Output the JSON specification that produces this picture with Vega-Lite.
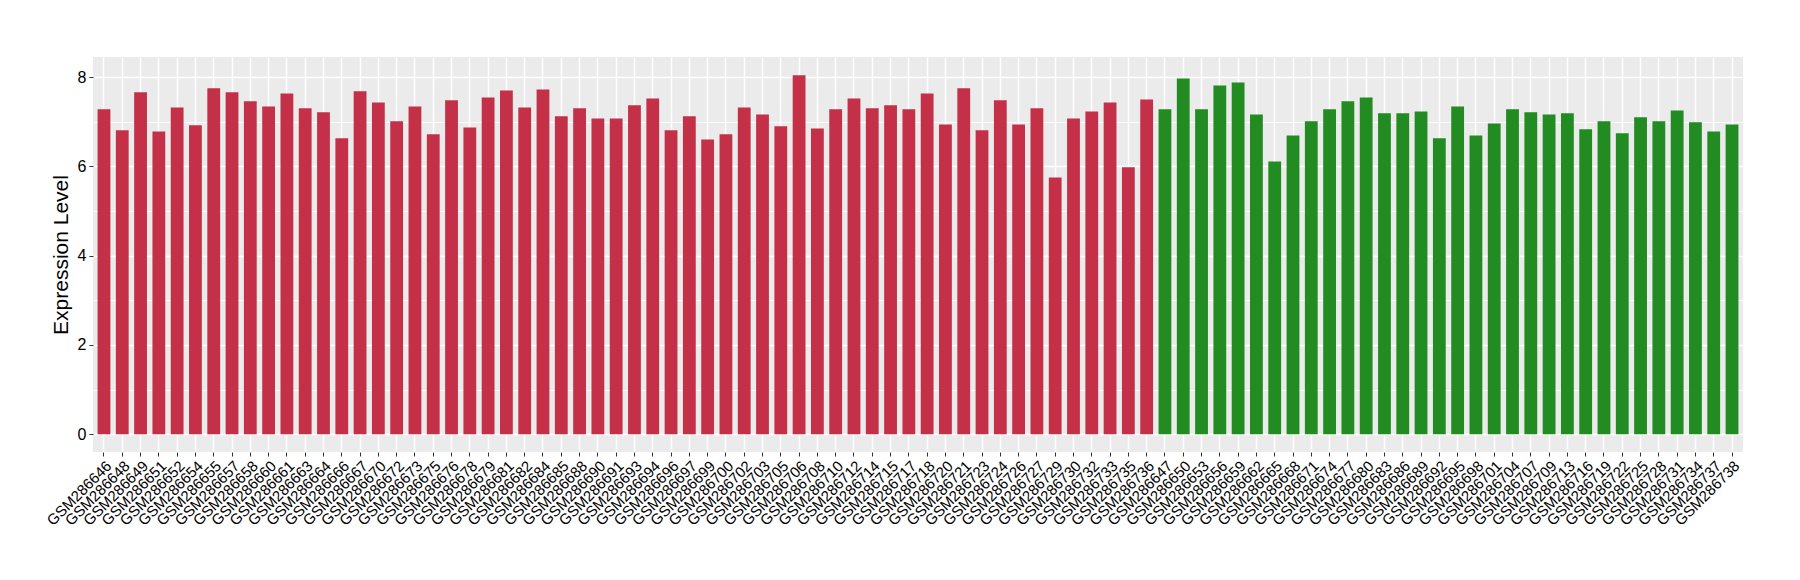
{
  "$schema": "https://vega.github.io/schema/vega-lite/v6.json",
  "autosize": {"type": "none"},
  "padding": {"left": 93, "top": 57, "right": 57, "bottom": 128},
  "width": 1650,
  "height": 395,
  "background": "white",
  "config": {
    "view": {"fill": "#EBEBEB", "stroke": null},
    "font": "Liberation Sans"
  },
  "data": {
    "values": [
      {"sample": "GSM286646", "group": "A", "value": 7.28},
      {"sample": "GSM286648", "group": "A", "value": 6.81},
      {"sample": "GSM286649", "group": "A", "value": 7.66},
      {"sample": "GSM286651", "group": "A", "value": 6.78},
      {"sample": "GSM286652", "group": "A", "value": 7.32},
      {"sample": "GSM286654", "group": "A", "value": 6.92},
      {"sample": "GSM286655", "group": "A", "value": 7.75},
      {"sample": "GSM286657", "group": "A", "value": 7.66},
      {"sample": "GSM286658", "group": "A", "value": 7.46},
      {"sample": "GSM286660", "group": "A", "value": 7.34},
      {"sample": "GSM286661", "group": "A", "value": 7.63},
      {"sample": "GSM286663", "group": "A", "value": 7.30},
      {"sample": "GSM286664", "group": "A", "value": 7.21},
      {"sample": "GSM286666", "group": "A", "value": 6.63},
      {"sample": "GSM286667", "group": "A", "value": 7.68},
      {"sample": "GSM286670", "group": "A", "value": 7.43},
      {"sample": "GSM286672", "group": "A", "value": 7.01},
      {"sample": "GSM286673", "group": "A", "value": 7.34},
      {"sample": "GSM286675", "group": "A", "value": 6.72},
      {"sample": "GSM286676", "group": "A", "value": 7.48},
      {"sample": "GSM286678", "group": "A", "value": 6.87},
      {"sample": "GSM286679", "group": "A", "value": 7.54},
      {"sample": "GSM286681", "group": "A", "value": 7.70},
      {"sample": "GSM286682", "group": "A", "value": 7.32},
      {"sample": "GSM286684", "group": "A", "value": 7.72},
      {"sample": "GSM286685", "group": "A", "value": 7.12},
      {"sample": "GSM286688", "group": "A", "value": 7.30},
      {"sample": "GSM286690", "group": "A", "value": 7.07},
      {"sample": "GSM286691", "group": "A", "value": 7.07},
      {"sample": "GSM286693", "group": "A", "value": 7.37},
      {"sample": "GSM286694", "group": "A", "value": 7.52},
      {"sample": "GSM286696", "group": "A", "value": 6.81},
      {"sample": "GSM286697", "group": "A", "value": 7.12},
      {"sample": "GSM286699", "group": "A", "value": 6.60},
      {"sample": "GSM286700", "group": "A", "value": 6.72},
      {"sample": "GSM286702", "group": "A", "value": 7.32},
      {"sample": "GSM286703", "group": "A", "value": 7.16},
      {"sample": "GSM286705", "group": "A", "value": 6.90},
      {"sample": "GSM286706", "group": "A", "value": 8.04},
      {"sample": "GSM286708", "group": "A", "value": 6.85},
      {"sample": "GSM286710", "group": "A", "value": 7.28},
      {"sample": "GSM286712", "group": "A", "value": 7.52},
      {"sample": "GSM286714", "group": "A", "value": 7.30},
      {"sample": "GSM286715", "group": "A", "value": 7.37},
      {"sample": "GSM286717", "group": "A", "value": 7.28},
      {"sample": "GSM286718", "group": "A", "value": 7.63},
      {"sample": "GSM286720", "group": "A", "value": 6.94},
      {"sample": "GSM286721", "group": "A", "value": 7.75},
      {"sample": "GSM286723", "group": "A", "value": 6.81},
      {"sample": "GSM286724", "group": "A", "value": 7.48},
      {"sample": "GSM286726", "group": "A", "value": 6.94},
      {"sample": "GSM286727", "group": "A", "value": 7.30},
      {"sample": "GSM286729", "group": "A", "value": 5.75},
      {"sample": "GSM286730", "group": "A", "value": 7.07},
      {"sample": "GSM286732", "group": "A", "value": 7.23},
      {"sample": "GSM286733", "group": "A", "value": 7.43},
      {"sample": "GSM286735", "group": "A", "value": 5.98},
      {"sample": "GSM286736", "group": "A", "value": 7.50},
      {"sample": "GSM286647", "group": "B", "value": 7.28},
      {"sample": "GSM286650", "group": "B", "value": 7.97},
      {"sample": "GSM286653", "group": "B", "value": 7.28},
      {"sample": "GSM286656", "group": "B", "value": 7.81},
      {"sample": "GSM286659", "group": "B", "value": 7.88},
      {"sample": "GSM286662", "group": "B", "value": 7.16},
      {"sample": "GSM286665", "group": "B", "value": 6.11},
      {"sample": "GSM286668", "group": "B", "value": 6.69},
      {"sample": "GSM286671", "group": "B", "value": 7.01},
      {"sample": "GSM286674", "group": "B", "value": 7.28},
      {"sample": "GSM286677", "group": "B", "value": 7.46},
      {"sample": "GSM286680", "group": "B", "value": 7.54},
      {"sample": "GSM286683", "group": "B", "value": 7.19},
      {"sample": "GSM286686", "group": "B", "value": 7.19},
      {"sample": "GSM286689", "group": "B", "value": 7.23},
      {"sample": "GSM286692", "group": "B", "value": 6.63},
      {"sample": "GSM286695", "group": "B", "value": 7.34},
      {"sample": "GSM286698", "group": "B", "value": 6.69},
      {"sample": "GSM286701", "group": "B", "value": 6.96},
      {"sample": "GSM286704", "group": "B", "value": 7.28},
      {"sample": "GSM286707", "group": "B", "value": 7.21},
      {"sample": "GSM286709", "group": "B", "value": 7.16},
      {"sample": "GSM286713", "group": "B", "value": 7.19},
      {"sample": "GSM286716", "group": "B", "value": 6.83},
      {"sample": "GSM286719", "group": "B", "value": 7.01},
      {"sample": "GSM286722", "group": "B", "value": 6.74},
      {"sample": "GSM286725", "group": "B", "value": 7.10},
      {"sample": "GSM286728", "group": "B", "value": 7.01},
      {"sample": "GSM286731", "group": "B", "value": 7.25},
      {"sample": "GSM286734", "group": "B", "value": 6.99},
      {"sample": "GSM286737", "group": "B", "value": 6.78},
      {"sample": "GSM286738", "group": "B", "value": 6.94}
    ]
  },
  "mark": {"type": "bar"},
  "encoding": {
    "x": {
      "field": "sample",
      "type": "nominal",
      "sort": null,
      "scale": {"paddingInner": 0.3, "paddingOuter": 0.25},
      "axis": {
        "title": null,
        "labelAngle": -45,
        "labelAlign": "right",
        "labelBaseline": "top",
        "labelFontSize": 15,
        "labelColor": "#000000",
        "labelPadding": 2,
        "labelOverlap": false,
        "grid": true,
        "gridColor": "white",
        "gridWidth": 1.5,
        "domain": false,
        "ticks": true,
        "tickColor": "#333333",
        "tickSize": 4,
        "tickWidth": 1
      }
    },
    "y": {
      "field": "value",
      "type": "quantitative",
      "scale": {"domain": [-0.4, 8.45], "nice": false, "zero": false},
      "axis": {
        "title": "Expression Level",
        "titleFontSize": 21,
        "titleFontWeight": "normal",
        "titleColor": "black",
        "titlePadding": 6,
        "values": [0, 1, 2, 3, 4, 5, 6, 7, 8],
        "labelExpr": "datum.value % 2 === 0 ? datum.label : ''",
        "labelFontSize": 16,
        "labelColor": "#000000",
        "labelPadding": 3,
        "domain": false,
        "grid": true,
        "gridColor": "white",
        "gridWidth": {"condition": {"test": "datum.value % 2 === 0", "value": 1.5}, "value": 0.8},
        "tickColor": {"condition": {"test": "datum.value % 2 === 0", "value": "#333333"}, "value": "rgba(0,0,0,0)"},
        "tickSize": 4
      }
    },
    "color": {
      "field": "group",
      "type": "nominal",
      "scale": {"domain": ["A", "B"], "range": ["#C33048", "#228B22"]},
      "legend": null
    }
  }
}
